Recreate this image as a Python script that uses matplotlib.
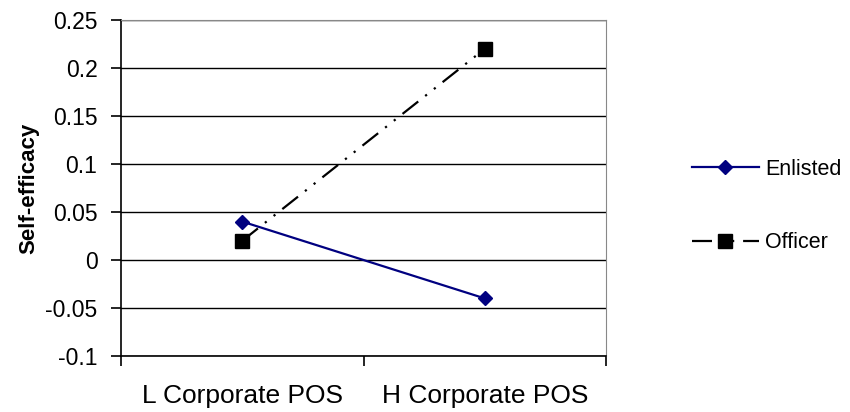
import matplotlib
matplotlib.use("Agg")
import matplotlib.pyplot as plt

plt.rcParams['font.family'] = ['Liberation Sans', 'DejaVu Sans']

categories = ['L Corporate POS', 'H Corporate POS']
enlisted = [0.04, -0.04]
officer = [0.02, 0.22]
yticks = [-0.1, -0.05, 0, 0.05, 0.1, 0.15, 0.2, 0.25]
ytick_labels = ['-0.1', '-0.05', '0', '0.05', '0.1', '0.15', '0.2', '0.25']

fig = plt.figure(figsize=(8.5, 4.12), dpi=100)
ax = fig.add_axes([121/850, 56/412, 485/850, 336/412])

x = [0.5, 1.5]
ax.plot(x, enlisted, color='#000080', lw=1.6, marker='D', markersize=7,
        label='Enlisted', zorder=3)
ax.plot(x, officer, color='black', lw=1.6, ls=(0, (9, 4, 1, 4, 1, 4)),
        marker='s', markersize=10, label='Officer', zorder=3)

ax.set_xlim(0, 2)
ax.set_ylim(-0.1, 0.25)
ax.set_yticks(yticks)
ax.set_yticklabels(ytick_labels, fontsize=16.5)
ax.yaxis.grid(True, color='black', lw=1)
ax.set_axisbelow(True)

ax.set_xticks([0, 1, 2])
ax.set_xticklabels([])
ax.set_xticks(x, minor=True)
ax.set_xticklabels(categories, minor=True, fontsize=19)
ax.tick_params(axis='x', which='minor', length=0, pad=20)
ax.tick_params(axis='x', which='major', length=7, width=1.2, direction='out')
ax.tick_params(axis='y', length=7, width=1.2, direction='out', pad=10)

ax.set_ylabel('Self-efficacy', fontsize=16, fontweight='bold', labelpad=4)

for s in ['top', 'right']:
    ax.spines[s].set_color('#888888')
for s in ['left', 'bottom']:
    ax.spines[s].set_color('black')
    ax.spines[s].set_linewidth(1.2)

leg = ax.legend(loc='center left', bbox_to_anchor=(692/850, 206/412),
                bbox_transform=fig.transFigure, frameon=False, fontsize=15.5,
                handlelength=3.1, labelspacing=2.45, handletextpad=0.3,
                borderaxespad=0, borderpad=0)

fig.savefig('out.png', dpi=100)
